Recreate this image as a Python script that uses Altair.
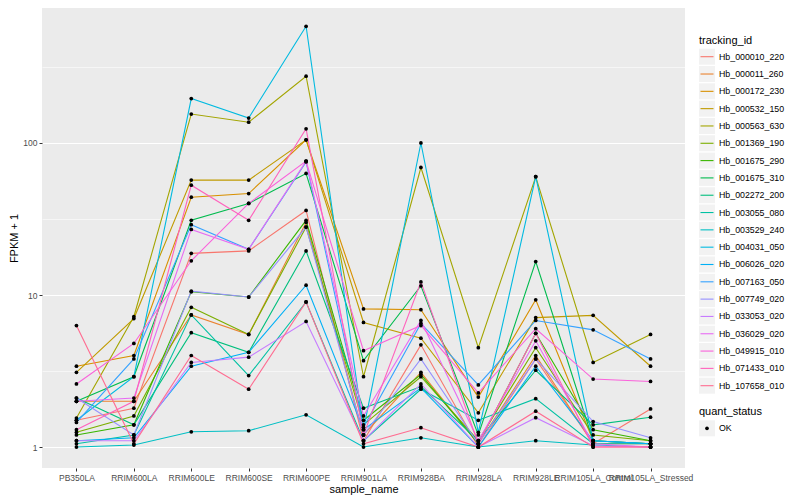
import altair as alt
import pandas as pd

samples = ["PB350LA", "RRIM600LA", "RRIM600LE", "RRIM600SE", "RRIM600PE", "RRIM901LA",
           "RRIM928BA", "RRIM928LA", "RRIM928LE", "RRIM105LA_Control", "RRIM105LA_Stressed"]

tracking_ids = ["Hb_000010_220", "Hb_000011_260", "Hb_000172_230", "Hb_000532_150",
                "Hb_000563_630", "Hb_001369_190", "Hb_001675_290", "Hb_001675_310",
                "Hb_002272_200", "Hb_003055_080", "Hb_003529_240", "Hb_004031_050",
                "Hb_006026_020", "Hb_007163_050", "Hb_007749_020", "Hb_033053_020",
                "Hb_036029_020", "Hb_049915_010", "Hb_071433_010", "Hb_107658_010"]

hb_000010_220 = [1.5, 1.8, 18.8, 19.5, 36, 1.1, 4.7, 1.0, 3.8, 1.05, 1.78]
hb_000011_260 = [2.0, 2.0, 7.4, 5.5, 30, 1.2, 3.1, 1.05, 4.0, 1.05, 1.05]
hb_000172_230 = [3.4, 4.0, 44, 46.5, 105, 8.1, 8.0, 2.13, 9.3, 1.1, 1.05]
hb_000532_150 = [3.1, 7.0, 57, 57, 105, 6.6, 5.2, 1.68, 7.1, 7.35, 3.4]
hb_000563_630 = [1.55, 7.2, 155, 137, 275, 2.9, 69, 4.5, 60, 3.6, 5.5]
hb_001369_190 = [1.25, 1.6, 8.3, 5.5, 28, 1.4, 2.9, 1.1, 4.5, 1.2, 1.1]
hb_001675_290 = [1.2, 1.4, 10.5, 9.7, 31, 1.5, 3.0, 1.05, 5.6, 1.3, 1.1]
hb_001675_310 = [2.0, 2.9, 31, 40, 63, 3.7, 11.5, 1.2, 16.6, 1.1, 1.05]
hb_002272_200 = [2.1, 1.4, 5.65, 4.2, 19.5, 1.8, 2.5, 1.1, 3.2, 1.4, 1.57]
hb_003055_080 = [1.05, 1.2, 7.4, 2.95, 9, 1.1, 2.4, 1.5, 2.08, 1.05, 1.05]
hb_003529_240 = [1.0, 1.03, 1.26, 1.28, 1.63, 1.0, 1.15, 1.0, 1.1, 1.03, 1.0]
hb_004031_050 = [1.5, 2.9, 196, 146, 586, 1.3, 100, 1.25, 60, 1.1, 1.05]
hb_006026_020 = [1.1, 1.15, 3.4, 4.2, 11.6, 1.3, 2.45, 1.0, 3.4, 1.1, 1.05]
hb_007163_050 = [1.45, 3.8, 29, 20, 75, 1.35, 6.5, 2.56, 6.8, 5.9, 3.8]
hb_007749_020 = [2.1, 1.2, 10.6, 9.7, 28, 1.2, 3.8, 1.05, 3.8, 1.47, 1.15]
hb_033053_020 = [1.1, 1.1, 3.6, 3.9, 6.7, 1.1, 2.6, 1.0, 1.56, 1.02, 1.0]
hb_036029_020 = [2.0, 2.1, 27, 20, 76, 1.6, 6.8, 1.1, 5.0, 1.05, 1.0]
hb_049915_010 = [2.6, 4.8, 16.8, 40, 76, 4.3, 6.3, 2.27, 6.0, 2.8, 2.7]
hb_071433_010 = [1.3, 2.0, 52.8, 31, 124, 1.2, 12.2, 1.05, 5.6, 1.0, 1.0]
hb_107658_010 = [6.3, 1.05, 4.0, 2.4, 9, 1.05, 1.34, 1.0, 1.72, 1.0, 1.0]

series = [hb_000010_220, hb_000011_260, hb_000172_230, hb_000532_150, hb_000563_630,
          hb_001369_190, hb_001675_290, hb_001675_310, hb_002272_200, hb_003055_080,
          hb_003529_240, hb_004031_050, hb_006026_020, hb_007163_050, hb_007749_020,
          hb_033053_020, hb_036029_020, hb_049915_010, hb_071433_010, hb_107658_010]

palette = ["#F8766D", "#EA8331", "#D89000", "#C09B00", "#A3A500", "#7CAE00", "#39B600",
           "#00BB4E", "#00BF7D", "#00C1A3", "#00BFC4", "#00BAE0", "#00B0F6", "#35A2FF",
           "#9590FF", "#C77CFF", "#E76BF3", "#FA62DB", "#FF62BC", "#FF6C91"]

rows = []
for tid, vals in zip(tracking_ids, series):
    for s, v in zip(samples, vals):
        rows.append({"tracking_id": tid, "sample_name": s, "fpkm1": v, "quant_status": "OK"})
df = pd.DataFrame(rows)

FONT = "Liberation Sans"
major = "abs(log(datum.value)/LN10 - round(log(datum.value)/LN10)) < 0.01"

x_enc = alt.X(
    "sample_name:N", sort=samples,
    scale=alt.Scale(type="point", padding=0.6),
    axis=alt.Axis(title="sample_name", labelAngle=0, labelOverlap=False, labelFontSize=8.5,
                  labelColor="#4D4D4D", labelFont=FONT, labelPadding=2, tickSize=3,
                  tickColor="#333333", domain=False, gridColor="white", gridWidth=1.1,
                  titleFont=FONT, titleFontSize=11, titleFontWeight="normal",
                  titleColor="black", titlePadding=2),
)
y_enc = alt.Y(
    "fpkm1:Q",
    scale=alt.Scale(type="log", domain=[0.7278, 772.7], nice=False),
    axis=alt.Axis(title="FPKM + 1", values=[1, 3.16228, 10, 31.6228, 100, 316.228],
                  labelExpr=f"({major}) ? format(datum.value, 'd') : ''",
                  labelOverlap=False, labelFontSize=8.5, labelColor="#4D4D4D", labelFont=FONT,
                  labelPadding=2, tickSize=3, tickColor="#333333",
                  tickOpacity={"condition": {"test": major, "value": 1}, "value": 0},
                  domain=False, gridColor="white",
                  gridWidth={"condition": {"test": major, "value": 1.1}, "value": 0.55},
                  titleFont=FONT, titleFontSize=11, titleFontWeight="normal",
                  titleColor="black", titlePadding=3),
)

color_scale = alt.Scale(domain=tracking_ids, range=palette)

lines = alt.Chart(df).mark_line(strokeWidth=1.1).encode(
    x=x_enc, y=y_enc,
    color=alt.Color("tracking_id:N", scale=color_scale, legend=None),
)
points = alt.Chart(df).mark_point(filled=True, size=14, color="black", opacity=1).encode(
    x=x_enc, y=y_enc,
)
main = alt.layer(lines, points).properties(
    width=643, height=460, view=alt.ViewBackground(fill="#EBEBEB", strokeWidth=0)
)

# legend panel
ids_df = pd.DataFrame({"tracking_id": tracking_ids})
ly = alt.Y("tracking_id:N", sort=tracking_ids,
           scale=alt.Scale(type="point", domain=tracking_ids, range=[48.7, 377.7], padding=0),
           axis=None)
keys = alt.Chart(ids_df).mark_square(size=256, color="#F2F2F2", opacity=1, filled=True).encode(
    x=alt.value(8), y=ly)
key_lines = alt.Chart(ids_df).mark_rule(strokeWidth=1.1).encode(
    x=alt.value(1.5), x2=alt.value(14.5), y=ly,
    color=alt.Color("tracking_id:N", scale=color_scale, legend=None))
key_text = alt.Chart(ids_df).mark_text(align="left", baseline="middle", fontSize=8.8,
                                       font=FONT, color="black").encode(
    x=alt.value(20), y=ly, text="tracking_id:N")
t1 = alt.Chart(pd.DataFrame({"t": ["tracking_id"]})).mark_text(
    align="left", baseline="middle", fontSize=11, font=FONT, color="black").encode(
    x=alt.value(0), y=alt.value(32.7), text="t:N")
t2 = alt.Chart(pd.DataFrame({"t": ["quant_status"]})).mark_text(
    align="left", baseline="middle", fontSize=11, font=FONT, color="black").encode(
    x=alt.value(0), y=alt.value(403.7), text="t:N")
qs_df = pd.DataFrame({"quant_status": ["OK"]})
ok_key = alt.Chart(qs_df).mark_square(size=256, color="#F2F2F2", opacity=1, filled=True).encode(
    x=alt.value(8), y=alt.value(420.3))
ok_pt = alt.Chart(qs_df).mark_point(filled=True, size=14, color="black", opacity=1).encode(
    x=alt.value(8), y=alt.value(420.3))
ok_txt = alt.Chart(qs_df).mark_text(align="left", baseline="middle", fontSize=8.8,
                                    font=FONT, color="black").encode(
    x=alt.value(20), y=alt.value(420.3), text="quant_status:N")

legend = alt.layer(keys, key_lines, key_text, t1, t2, ok_key, ok_pt, ok_txt).properties(
    width=90, height=460)

chart = alt.hconcat(main, legend, spacing=14, bounds="flush").properties(
    padding={"left": 0, "top": 0, "right": 0, "bottom": 0}
).configure(font=FONT).configure_view(strokeWidth=0)

chart.save("out.html", embed_options={"renderer": "svg", "actions": False})
